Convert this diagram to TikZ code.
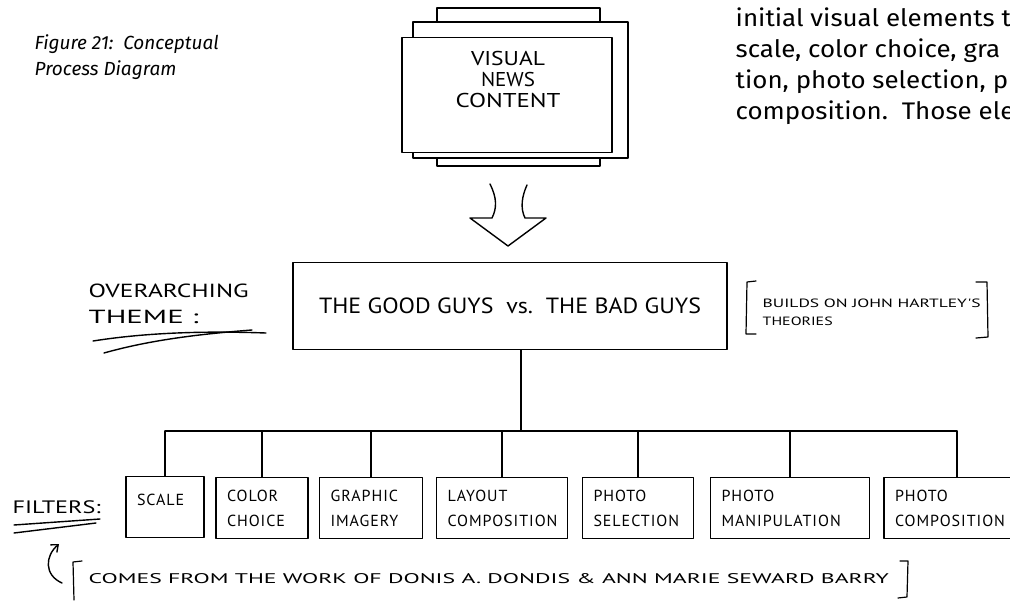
\documentclass[tikz,border=0pt]{standalone}
\usepackage{fontspec}
\usepackage{graphicx}
\setmainfont{Fira Sans}
\newfontfamily\hand{PT Sans}
\newcommand\fitw[2]{\resizebox{#1}{\height}{#2}}
\usetikzlibrary{arrows.meta}
\begin{document}
\begin{tikzpicture}[x=1pt,y=-1pt, line width=1.4pt, line cap=round, line join=round,
  fbox/.style={draw, fill=white, minimum height=61pt, inner xsep=11pt, inner ysep=2pt,
    font=\hand\fontsize{16}{25}\selectfont\addfontfeature{LetterSpace=6}, align=left, text width=#1},
  sheet/.style={draw, fill=white},
  hw/.style={font=\hand, inner sep=0pt},
  conn/.style={line width=1.3pt},
  brk/.style={line width=1.2pt}]
\useasboundingbox (0,0) rectangle (1010,602);
\clip (0,0) rectangle (1010,602);

% caption and body text
\node[anchor=base west, align=left, inner sep=0, font=\itshape\fontsize{19}{26}\selectfont] (cap) at (34,76) {Figure 21:\ \ Conceptual\\Process Diagram};
\node[anchor=base west, align=left, inner sep=0, font=\fontsize{24}{31}\selectfont] (body) at (735,119)
  {\scalebox{1.08}[1]{initial visual elements t}\\\scalebox{1.08}[1]{scale, color choice, gra}\\\scalebox{1.08}[1]{tion, photo selection, p}\\\scalebox{1.08}[1]{composition.\ \ Those ele}};

% stacked sheets: visual news content
\draw[sheet] (437,8) rectangle (600,166);
\draw[sheet] (413,22) rectangle (628,158);
\node[draw, fill=white, minimum width=210pt, minimum height=115pt, inner sep=0pt] (vnc) at (507,95) {};
\node[hw, align=center, font=\hand\fontsize{20}{21}\selectfont] (vnctext) at (508,79)
  {\fitw{74pt}{VISUAL}\\\fitw{54pt}{NEWS}\\\fitw{105pt}{CONTENT}};

% theme box
\node[draw, minimum width=434pt, minimum height=87pt, inner sep=0pt,
  font=\hand\fontsize{22}{24}\selectfont] (theme) at (510,306) {\fitw{382pt}{THE GOOD GUYS\ \ vs.\ \ THE BAD GUYS}};

% hollow block arrow
\draw (490,184) .. controls (497,198) and (497,208) .. (492,218)
  -- (470,218) -- (508,246) -- (546,218) -- (525,218)
  .. controls (520,208) and (522,196) .. (527,185);

% overarching theme label
\node[hw, align=left, font=\hand\fontsize{19}{26}\selectfont, anchor=base west] (otl) at (88,323)
  {\fitw{160pt}{OVERARCHING}\\\fitw{110pt}{THEME\ :}};
\draw (93,341) .. controls (150,332) and (210,331) .. (266,333);
\draw (104,353) .. controls (150,340) and (200,334) .. (252,330);

% builds on note
\node[hw, align=left, font=\hand\fontsize{12}{18}\selectfont, anchor=base west] (builds) at (762,325)
  {\fitw{218pt}{BUILDS ON JOHN HARTLEY'S}\\\fitw{70pt}{THEORIES}};
\draw[brk] (756,281) -- (747,282) -- (746,334) -- (756,334);
\draw[brk] (976,282) -- (987,282) -- (988,337) -- (976,338);

% filter boxes
\node[fbox=56pt]  (b1) at (165,507) {SCALE\\[-10pt]\mbox{}};
\node[fbox=70pt]  (b2) at (262,508) {COLOR\\CHOICE};
\node[fbox=81pt]  (b3) at (371,508) {GRAPHIC\\IMAGERY};
\node[fbox=109pt] (b4) at (502,508) {LAYOUT\\COMPOSITION};
\node[fbox=89pt]  (b5) at (638,508) {PHOTO\\SELECTION};
\node[fbox=137pt] (b6) at (790,508) {PHOTO\\MANIPULATION};
\node[fbox=124pt] (b7) at (957,508) {PHOTO\\COMPOSITION};

% tree connectors
\coordinate (bar) at (0,431);
\draw[conn] (b1.north |- bar) -- (b7.north |- bar);
\draw[conn] (theme.south -| 521,0) -- (521,431);
\foreach \b in {b1,b2,b3,b4,b5,b6,b7} \draw[conn] (\b.north) -- (\b.north |- bar);

% filters label
\node[hw, font=\hand\fontsize{18}{20}\selectfont, anchor=base west] (filt) at (12,513) {\fitw{88pt}{FILTERS:}};
\draw (14,525) -- (100,519);
\draw (14,533) -- (96,523);

% comes-from note
\node[hw, font=\hand\fontsize{14}{16}\selectfont, anchor=base west] (comes) at (88,583)
  {\fitw{800pt}{COMES FROM THE WORK OF DONIS A. DONDIS \& ANN MARIE SEWARD BARRY}};
\draw[brk] (82,561) -- (73,562) -- (74,600);
\draw[brk] (900,561) -- (908,561) -- (907,597) -- (898,598);
\coordinate (ctail) at (62,583);
\coordinate (chead) at (59,544);
\draw[-{Straight Barb[length=6pt,width=10pt]}] (ctail) .. controls (44,575) and (45,556) .. (chead);
\end{tikzpicture}
\end{document}
